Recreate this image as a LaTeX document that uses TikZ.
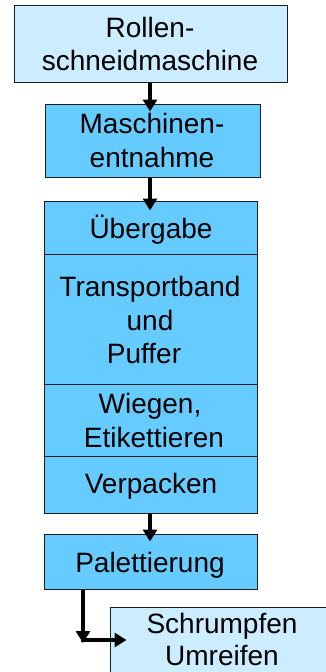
\documentclass[tikz,border=0pt]{standalone}
\usepackage{fontspec}
\setmainfont{Liberation Sans}
\usetikzlibrary{arrows.meta}
\definecolor{lightblu}{RGB}{204,236,255}
\definecolor{midblu}{RGB}{102,204,255}
\definecolor{edge}{RGB}{30,30,30}
\begin{document}
\begin{tikzpicture}[x=1pt,y=-1pt,
  boxl/.style={draw=edge,line width=1pt,fill=lightblu,inner sep=0pt,minimum width=#1},
  boxm/.style={draw=edge,line width=1pt,fill=midblu,inner sep=0pt},
  lbl/.style={inner sep=0pt,anchor=base,font=\fontsize{28}{33.5}\selectfont},
  arr/.style={line width=3.6pt,-{Triangle[width=14pt,length=12pt]}}]
\useasboundingbox (0,0) rectangle (326,672);
\clip (0,0) rectangle (326,672);
% boxes
\node[boxl=273pt,minimum height=77pt] (rs) at (150.5,43.5) {};
\node[boxm,minimum width=215pt,minimum height=73pt] (me) at (152.5,140.5) {};
\node[boxm,minimum width=213pt,minimum height=53pt] (ue) at (150.5,227.5) {};
\node[boxm,minimum width=213pt,minimum height=130pt] (tp) at (150.5,319) {};
\node[boxm,minimum width=213pt,minimum height=72pt] (wi) at (150.5,420) {};
\node[boxm,minimum width=213pt,minimum height=57pt] (vp) at (150.5,484.5) {};
\node[boxm,minimum width=213pt,minimum height=55pt] (pa) at (150.5,561.5) {};
\node[boxl=240pt,minimum height=90pt] (su) at (230,652) {};
% texts
\node[lbl] (t1) at (150,37) {Rollen-};
\node[lbl] (t2) at (150,70) {schneidmaschine};
\node[lbl] (t3) at (152,133) {Maschinen-};
\node[lbl] (t4) at (152,167) {entnahme};
\node[lbl] (t5) at (151,238) {Übergabe};
\node[lbl] (t6) at (150,296) {Transportband};
\node[lbl] (t7) at (150,330) {und};
\node[lbl] (t8) at (144,363) {Puffer};
\node[lbl] (t9) at (150,413) {Wiegen,};
\node[lbl] (t10) at (154,447) {Etikettieren};
\node[lbl] (t11) at (151,493) {Verpacken};
\node[lbl] (t12) at (150,572) {Palettierung};
\node[lbl] (t13) at (222,633) {Schrumpfen};
\node[lbl] (t14) at (222,665) {Umreifen};
% connectors
\draw[arr] (150,0 |- rs.south) -- ([yshift=-8pt]150,0 |- me.north);
\draw[arr] (150,0 |- me.south) -- ([yshift=-10pt]150,0 |- ue.north);
\draw[arr] (150,0 |- vp.south) -- ([yshift=-8pt]150,0 |- pa.north);
\coordinate (dn) at (83,643);
\coordinate (cr) at (81.2,640);
\draw[arr] (83,0 |- pa.south) -- (dn);
\draw[arr] (cr) -- ([xshift=17pt]su.west |- cr);
\end{tikzpicture}
\end{document}
